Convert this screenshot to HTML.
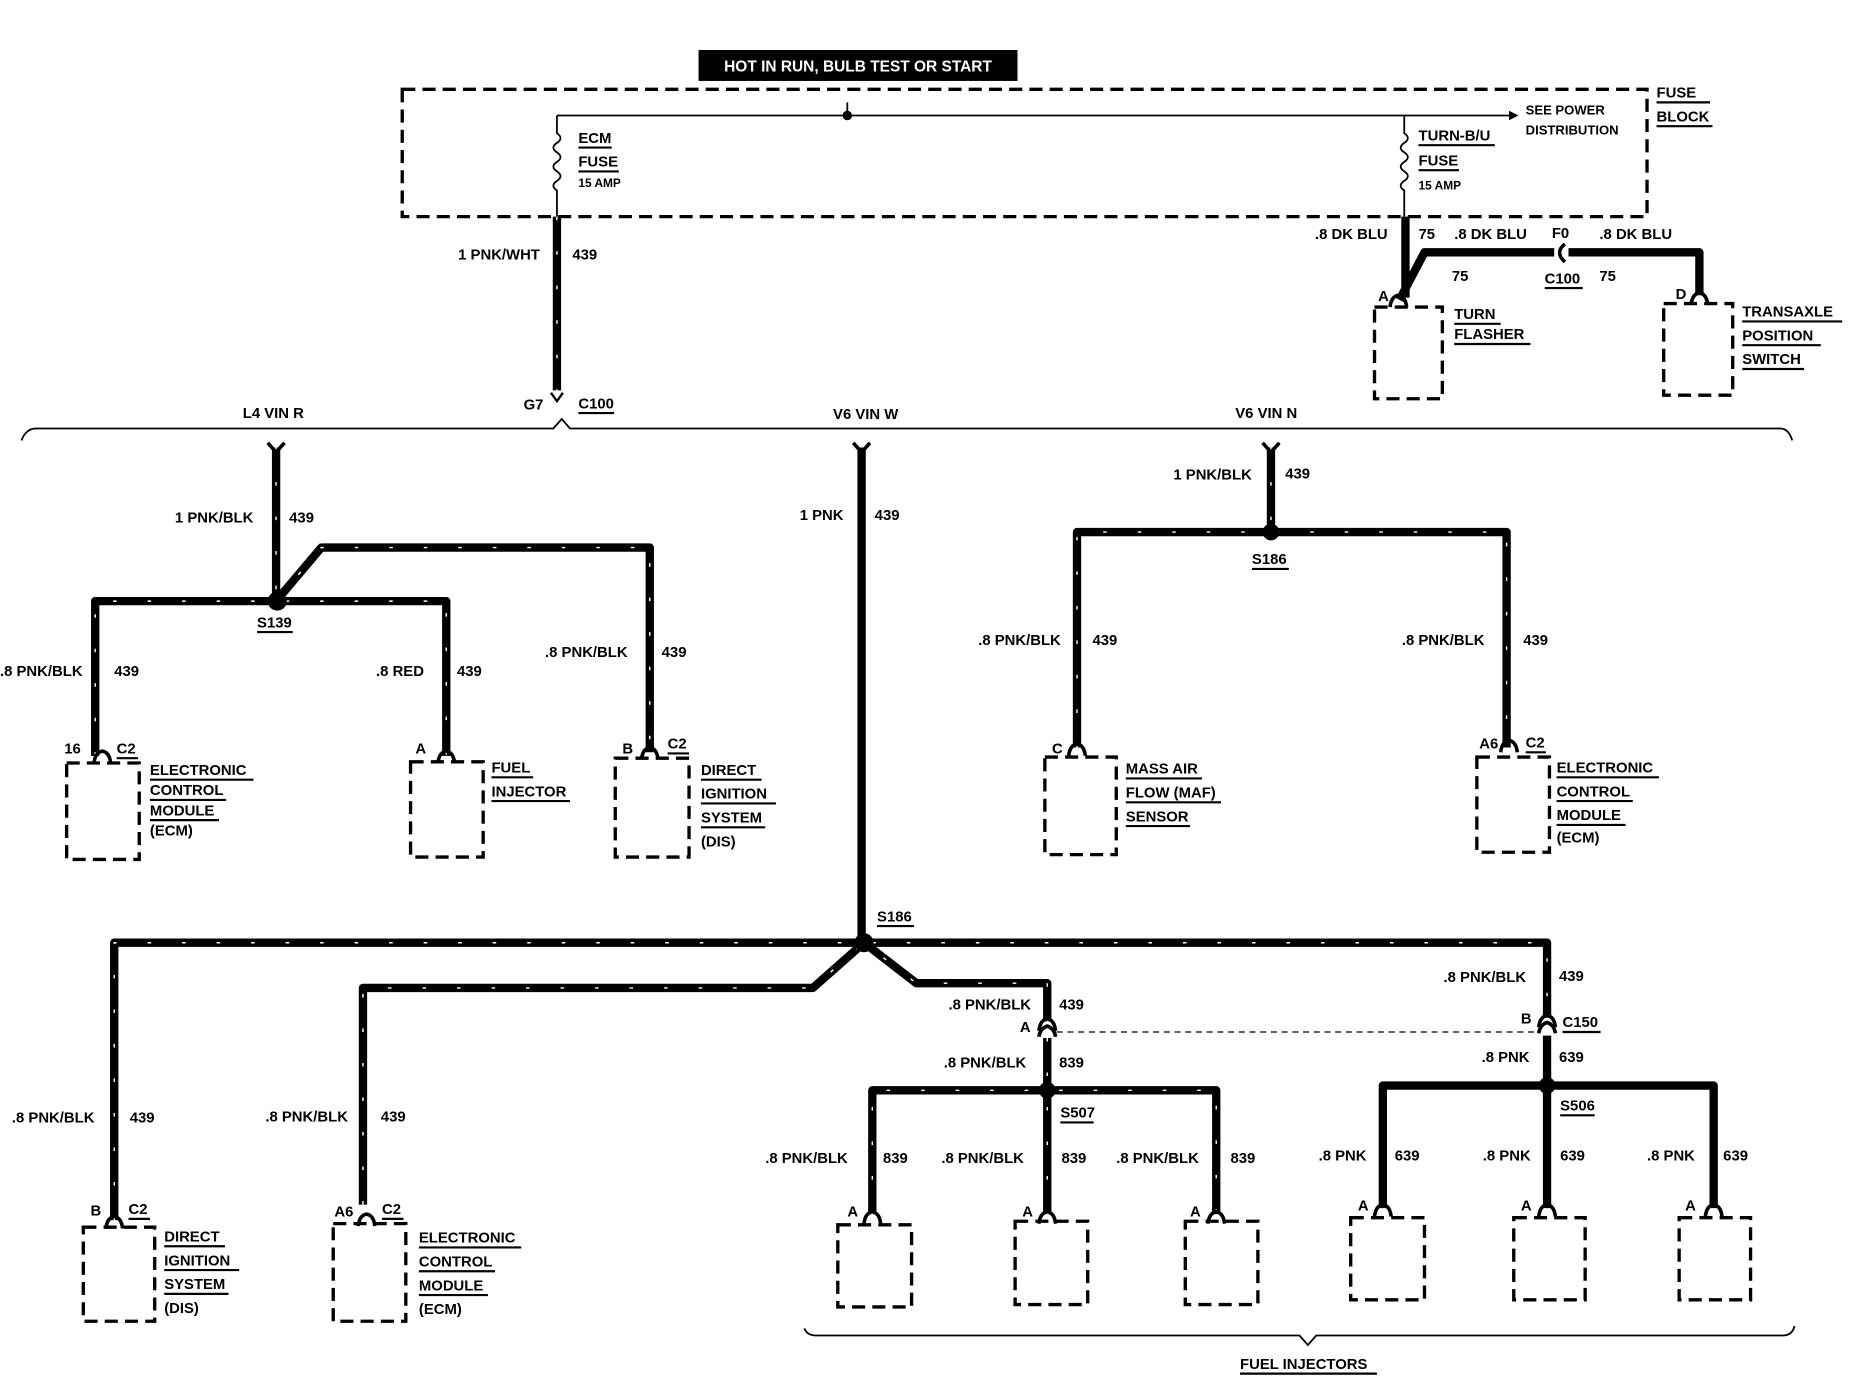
<!DOCTYPE html>
<html><head><meta charset="utf-8"><style>
html,body{margin:0;padding:0;background:#fff}
svg{display:block}
text{font-family:"Liberation Sans",sans-serif;font-weight:bold;font-size:12.5px;fill:#000}
.w{stroke:#000;stroke-width:7;fill:none;stroke-linejoin:round}
.s{stroke:#fff;stroke-width:1.2;fill:none;stroke-dasharray:3 26}
.d{stroke:#000;stroke-width:2.8;fill:none;stroke-dasharray:11 6}
.t{stroke:#000;stroke-width:1.5;fill:none}
.u{stroke:#000;stroke-width:1.8}
</style></head><body>
<svg width="1866" height="1376" viewBox="0 0 1568 1156" preserveAspectRatio="none">
<defs>
<path id="c" d="M-7 8 Q-6 -1 0 -2 Q6 -1 7 8" stroke="#000" stroke-width="3" fill="none"/>
</defs>
<rect x="587" y="42" width="268" height="26" fill="#000"/>
<text x="721" y="60" text-anchor="middle" style="fill:#fff;font-size:13px">HOT IN RUN, BULB TEST OR START</text>
<rect x="338" y="75" width="1046" height="107" class="d"/>
<text x="1392" y="82">FUSE</text><line x1="1392" y1="86" x2="1437" y2="86" class="u"/>
<text x="1392" y="102">BLOCK</text><line x1="1392" y1="106" x2="1439" y2="106" class="u"/>
<line x1="468" y1="97" x2="1270" y2="97" class="t"/>
<polygon points="1268,93 1276,97 1268,101"/>
<circle cx="712" cy="97" r="4"/><line x1="712" y1="86" x2="712" y2="97" class="t"/>
<text x="1282" y="96" style="font-size:11px">SEE POWER</text>
<text x="1282" y="113" style="font-size:11px">DISTRIBUTION</text>
<path d="M468 97 V112 q6 4 0 8 q-6 4 0 8 q6 4 0 8 q-6 4 0 8 q6 4 0 8 q-6 4 0 8 V182" class="t"/>
<text x="486" y="120">ECM</text><line x1="486" y1="124" x2="514" y2="124" class="u"/>
<text x="486" y="140">FUSE</text><line x1="486" y1="144" x2="520" y2="144" class="u"/>
<text x="486" y="157" style="font-size:10px">15 AMP</text>
<path d="M1180 97 V112 q6 4 0 8 q-6 4 0 8 q6 4 0 8 q-6 4 0 8 q6 4 0 8 q-6 4 0 8 V182" class="t"/>
<text x="1192" y="118">TURN-B/U</text><line x1="1192" y1="122" x2="1256" y2="122" class="u"/>
<text x="1192" y="139">FUSE</text><line x1="1192" y1="143" x2="1226" y2="143" class="u"/>
<text x="1192" y="159" style="font-size:10px">15 AMP</text>
<path d="M468 182 V328" class="w"/><path d="M468 182 V328" class="s"/>
<text x="385" y="218">1 PNK/WHT</text><text x="481" y="218">439</text>
<path d="M463 330 L468 337 L473 330" stroke="#000" stroke-width="2" fill="none"/>
<text x="440" y="344">G7</text><text x="486" y="343">C100</text><line x1="486" y1="347" x2="516" y2="347" class="u"/>
<path d="M1181 182 V250 M1176 252 L1197 212 H1306 M1318 212 H1428 V248" class="w"/>
<use href="#c" x="1175" y="250"/><use href="#c" x="1428" y="248"/>
<path d="M1315 205 Q1306 212 1315 220" stroke="#000" stroke-width="3" fill="none"/>
<text x="1105" y="201">.8 DK BLU</text><text x="1192" y="201">75</text>
<text x="1222" y="201">.8 DK BLU</text><text x="1304" y="200">F0</text><text x="1344" y="201">.8 DK BLU</text>
<text x="1220" y="236">75</text><text x="1298" y="238">C100</text><line x1="1298" y1="242" x2="1330" y2="242" class="u"/><text x="1344" y="236">75</text>
<text x="1158" y="253">A</text><text x="1408" y="251">D</text>
<rect x="1155" y="258" width="57" height="77" class="d"/>
<text x="1222" y="268">TURN</text><line x1="1222" y1="272" x2="1261" y2="272" class="u"/>
<text x="1222" y="285">FLASHER</text><line x1="1222" y1="289" x2="1286" y2="289" class="u"/>
<rect x="1398" y="255" width="58" height="77" class="d"/>
<text x="1464" y="266">TRANSAXLE</text><line x1="1464" y1="270" x2="1548" y2="270" class="u"/>
<text x="1464" y="286">POSITION</text><line x1="1464" y1="290" x2="1530" y2="290" class="u"/>
<text x="1464" y="306">SWITCH</text><line x1="1464" y1="310" x2="1516" y2="310" class="u"/>
<path d="M18 370 Q22 360 30 360 H465 L472 352 L479 360 H1496 Q1503 360 1506 370" class="t" stroke-width="2"/>
<text x="204" y="351">L4 VIN R</text><text x="700" y="352">V6 VIN W</text><text x="1038" y="351">V6 VIN N</text>
<path d="M232 376 V505 M80 635 V505 H375 V635 M232 505 L270 460 H546 V632" class="w"/>
<path d="M232 376 V505 M80 635 V505 H375 V635 M232 505 L270 460 H546 V632" class="s"/>
<path d="M225 372 L232 380 L239 372" stroke="#000" stroke-width="3" fill="none"/>
<circle cx="233" cy="505" r="8"/>
<text x="216" y="527">S139</text><line x1="216" y1="531" x2="246" y2="531" class="u"/>
<text x="147" y="439">1 PNK/BLK</text><text x="243" y="439">439</text>
<text x="0" y="568">.8 PNK/BLK</text><text x="96" y="568">439</text>
<text x="316" y="568">.8 RED</text><text x="384" y="568">439</text>
<text x="458" y="552">.8 PNK/BLK</text><text x="556" y="552">439</text>
<use href="#c" x="86" y="633"/><use href="#c" x="375" y="633"/><use href="#c" x="546" y="630"/>
<text x="54" y="633">16</text><text x="98" y="633">C2</text><line x1="98" y1="637" x2="116" y2="637" class="u"/>
<text x="349" y="633">A</text>
<text x="523" y="633">B</text><text x="561" y="629">C2</text><line x1="561" y1="633" x2="579" y2="633" class="u"/>
<rect x="56" y="641" width="61" height="81" class="d"/>
<rect x="345" y="640" width="61" height="80" class="d"/>
<rect x="517" y="637" width="62" height="83" class="d"/>
<text x="126" y="651">ELECTRONIC</text><line x1="126" y1="655" x2="213" y2="655" class="u"/>
<text x="126" y="668">CONTROL</text><line x1="126" y1="672" x2="190" y2="672" class="u"/>
<text x="126" y="685">MODULE</text><line x1="126" y1="689" x2="184" y2="689" class="u"/>
<text x="126" y="702">(ECM)</text>
<text x="413" y="649">FUEL</text><line x1="413" y1="653" x2="448" y2="653" class="u"/>
<text x="413" y="669">INJECTOR</text><line x1="413" y1="673" x2="479" y2="673" class="u"/>
<text x="589" y="651">DIRECT</text><line x1="589" y1="655" x2="640" y2="655" class="u"/>
<text x="589" y="671">IGNITION</text><line x1="589" y1="675" x2="652" y2="675" class="u"/>
<text x="589" y="691">SYSTEM</text><line x1="589" y1="695" x2="643" y2="695" class="u"/>
<text x="589" y="711">(DIS)</text>
<path d="M1068 376 V447 M905 628 V447 H1266 V628" class="w"/>
<path d="M905 628 V447 H1266 V628" class="s"/><path d="M1068 376 V447" class="s"/>
<path d="M1061 372 L1068 380 L1075 372" stroke="#000" stroke-width="3" fill="none"/>
<circle cx="1068" cy="447" r="7"/>
<text x="1052" y="474">S186</text><line x1="1052" y1="478" x2="1083" y2="478" class="u"/>
<text x="986" y="403">1 PNK/BLK</text><text x="1080" y="402">439</text>
<text x="822" y="542">.8 PNK/BLK</text><text x="918" y="542">439</text>
<text x="1178" y="542">.8 PNK/BLK</text><text x="1280" y="542">439</text>
<use href="#c" x="905" y="627"/><use href="#c" x="1268" y="624"/>
<text x="884" y="633">C</text><text x="1243" y="629">A6</text><text x="1282" y="628">C2</text><line x1="1282" y1="632" x2="1299" y2="632" class="u"/>
<rect x="878" y="636" width="60" height="82" class="d"/>
<rect x="1241" y="636" width="61" height="80" class="d"/>
<text x="946" y="650">MASS AIR</text><line x1="946" y1="654" x2="1010" y2="654" class="u"/>
<text x="946" y="670">FLOW (MAF)</text><line x1="946" y1="674" x2="1026" y2="674" class="u"/>
<text x="946" y="690">SENSOR</text><line x1="946" y1="694" x2="1000" y2="694" class="u"/>
<text x="1308" y="649">ELECTRONIC</text><line x1="1308" y1="653" x2="1394" y2="653" class="u"/>
<text x="1308" y="669">CONTROL</text><line x1="1308" y1="673" x2="1372" y2="673" class="u"/>
<text x="1308" y="689">MODULE</text><line x1="1308" y1="693" x2="1366" y2="693" class="u"/>
<text x="1308" y="708">(ECM)</text>
<path d="M724 376 V792" class="w"/>
<path d="M717 372 L724 380 L731 372" stroke="#000" stroke-width="3" fill="none"/>
<path d="M96 1025 V792 H1300 V855 M305 1012 V830 H683 L726 792 L770 826 H880 V858" class="w"/>
<path d="M96 1025 V792 H1300 V855 M305 1012 V830 H683 L726 792 L770 826 H880 V858" class="s"/>
<circle cx="726" cy="792" r="8"/>
<text x="737" y="774">S186</text><line x1="737" y1="778" x2="768" y2="778" class="u"/>
<text x="672" y="437">1 PNK</text><text x="735" y="437">439</text>
<text x="10" y="943">.8 PNK/BLK</text><text x="109" y="943">439</text>
<text x="223" y="942">.8 PNK/BLK</text><text x="320" y="942">439</text>
<use href="#c" x="96" y="1024"/><use href="#c" x="308" y="1022"/>
<text x="76" y="1021">B</text><text x="108" y="1020">C2</text><line x1="108" y1="1024" x2="126" y2="1024" class="u"/>
<text x="281" y="1022">A6</text><text x="321" y="1020">C2</text><line x1="321" y1="1024" x2="339" y2="1024" class="u"/>
<rect x="70" y="1031" width="60" height="79" class="d"/>
<rect x="280" y="1028" width="61" height="82" class="d"/>
<text x="138" y="1043">DIRECT</text><line x1="138" y1="1047" x2="189" y2="1047" class="u"/>
<text x="138" y="1063">IGNITION</text><line x1="138" y1="1067" x2="201" y2="1067" class="u"/>
<text x="138" y="1083">SYSTEM</text><line x1="138" y1="1087" x2="192" y2="1087" class="u"/>
<text x="138" y="1103">(DIS)</text>
<text x="352" y="1044">ELECTRONIC</text><line x1="352" y1="1048" x2="438" y2="1048" class="u"/>
<text x="352" y="1064">CONTROL</text><line x1="352" y1="1068" x2="416" y2="1068" class="u"/>
<text x="352" y="1084">MODULE</text><line x1="352" y1="1088" x2="410" y2="1088" class="u"/>
<text x="352" y="1104">(ECM)</text>
<use href="#c" x="880" y="858"/><use href="#c" x="1300" y="855"/>
<path d="M873 871 Q874 864 880 862 Q886 864 887 871" stroke="#000" stroke-width="3" fill="none"/>
<path d="M1293 868 Q1294 861 1300 859 Q1306 861 1307 868" stroke="#000" stroke-width="3" fill="none"/>
<line x1="888" y1="867" x2="1294" y2="867" stroke="#000" stroke-width="1" stroke-dasharray="5 4"/>
<text x="797" y="848">.8 PNK/BLK</text><text x="890" y="848">439</text><text x="857" y="867">A</text>
<text x="1213" y="825">.8 PNK/BLK</text><text x="1310" y="824">439</text>
<text x="1278" y="860">B</text><text x="1313" y="863">C150</text><line x1="1313" y1="867" x2="1345" y2="867" class="u"/>
<path d="M880 872 V1020 M733 1020 V916 H1022 V1020" class="w"/>
<path d="M880 872 V1020 M733 1020 V916 H1022 V1020" class="s"/>
<circle cx="880" cy="916" r="7"/>
<text x="891" y="939">S507</text><line x1="891" y1="943" x2="919" y2="943" class="u"/>
<text x="793" y="897">.8 PNK/BLK</text><text x="890" y="897">839</text>
<text x="643" y="977">.8 PNK/BLK</text><text x="742" y="977">839</text>
<text x="791" y="977">.8 PNK/BLK</text><text x="892" y="977">839</text>
<text x="938" y="977">.8 PNK/BLK</text><text x="1034" y="977">839</text>
<path d="M1300 870 V1015 M1162 1015 V912 H1440 V1015" class="w"/>
<circle cx="1300" cy="912" r="7"/>
<text x="1311" y="933">S506</text><line x1="1311" y1="937" x2="1340" y2="937" class="u"/>
<text x="1245" y="892">.8 PNK</text><text x="1310" y="892">639</text>
<text x="1108" y="975">.8 PNK</text><text x="1172" y="975">639</text>
<text x="1246" y="975">.8 PNK</text><text x="1311" y="975">639</text>
<text x="1384" y="975">.8 PNK</text><text x="1448" y="975">639</text>
<use href="#c" x="733" y="1020"/><use href="#c" x="880" y="1020"/><use href="#c" x="1022" y="1020"/>
<use href="#c" x="1162" y="1014"/><use href="#c" x="1300" y="1014"/><use href="#c" x="1440" y="1014"/>
<text x="712" y="1022">A</text><text x="859" y="1022">A</text><text x="1000" y="1022">A</text>
<text x="1141" y="1017">A</text><text x="1278" y="1017">A</text><text x="1416" y="1017">A</text>
<rect x="704" y="1029" width="62" height="69" class="d"/>
<rect x="853" y="1026" width="61" height="70" class="d"/>
<rect x="996" y="1026" width="61" height="70" class="d"/>
<rect x="1135" y="1023" width="62" height="69" class="d"/>
<rect x="1272" y="1023" width="60" height="69" class="d"/>
<rect x="1411" y="1023" width="60" height="69" class="d"/>
<path d="M676 1116 Q678 1122 686 1122 H1092 L1099 1130 L1106 1122 H1498 Q1506 1122 1508 1114" class="t" stroke-width="2"/>
<text x="1042" y="1150">FUEL INJECTORS</text><line x1="1042" y1="1154" x2="1157" y2="1154" class="u"/>
</svg>
</body></html>
